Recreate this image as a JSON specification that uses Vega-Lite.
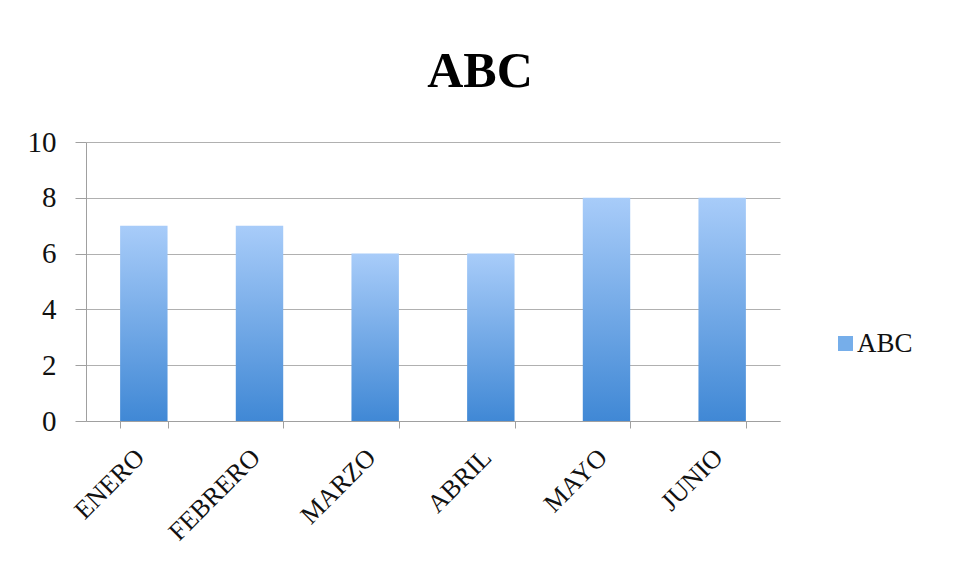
{
  "$schema": "https://vega.github.io/schema/vega-lite/v6.json",
  "autosize": {"type": "none"},
  "width": 694,
  "height": 279,
  "padding": {"left": 86, "top": 142, "right": 175, "bottom": 153},
  "background": "white",
  "title": {
    "text": "ABC",
    "font": "Liberation Serif",
    "fontSize": 50,
    "fontWeight": "bold",
    "color": "#000000",
    "anchor": "middle",
    "dx": 47,
    "dy": 63,
    "baseline": "alphabetic",
    "offset": 54
  },
  "data": {
    "values": [
      {"mes": "ENERO", "valor": 7, "serie": "ABC"},
      {"mes": "FEBRERO", "valor": 7, "serie": "ABC"},
      {"mes": "MARZO", "valor": 6, "serie": "ABC"},
      {"mes": "ABRIL", "valor": 6, "serie": "ABC"},
      {"mes": "MAYO", "valor": 8, "serie": "ABC"},
      {"mes": "JUNIO", "valor": 8, "serie": "ABC"}
    ]
  },
  "encoding": {
    "x": {
      "field": "mes",
      "type": "nominal",
      "sort": null,
      "title": null,
      "scale": {"paddingInner": 0.59, "paddingOuter": 0.295},
      "axis": {
        "labelAngle": -45,
        "labelAlign": "right",
        "labelBaseline": "middle",
        "labelFont": "Liberation Serif",
        "labelFontSize": 26,
        "labelColor": "#111111",
        "labelPadding": 25,
        "labelOffset": -4,
        "tickBand": "extent",
        "tickSize": 7,
        "tickColor": "#a0a0a0",
        "domainColor": "#a0a0a0",
        "grid": false
      }
    },
    "y": {
      "field": "valor",
      "type": "quantitative",
      "title": null,
      "scale": {"domain": [0, 10]},
      "axis": {
        "values": [0, 2, 4, 6, 8, 10],
        "labelFont": "Liberation Serif",
        "labelFontSize": 29,
        "labelColor": "#111111",
        "labelPadding": 19,
        "tickSize": 11,
        "tickColor": "#a0a0a0",
        "domainColor": "#a0a0a0",
        "gridColor": "#b0b0b0",
        "grid": true
      }
    }
  },
  "layer": [
    {
      "mark": {
        "type": "bar",
        "color": {"gradient": "linear", "x1": 0, "y1": 0, "x2": 0, "y2": 1,
          "stops": [{"offset": 0, "color": "#a8ccf9"}, {"offset": 1, "color": "#4088d5"}]}
      }
    },
    {
      "mark": {"type": "bar", "opacity": 0},
      "encoding": {
        "color": {
          "field": "serie",
          "type": "nominal",
          "title": null,
          "scale": {"range": ["#76aeea"]},
          "legend": {
            "orient": "none",
            "legendX": 746,
            "legendY": 188,
            "symbolType": "square",
            "symbolSize": 225,
            "symbolStrokeWidth": 0,
            "symbolOpacity": 1,
            "labelFont": "Liberation Serif",
            "labelFontSize": 27,
            "labelColor": "#111111",
            "labelOffset": -2
          }
        }
      }
    }
  ],
  "config": {
    "view": {"stroke": null}
  }
}
